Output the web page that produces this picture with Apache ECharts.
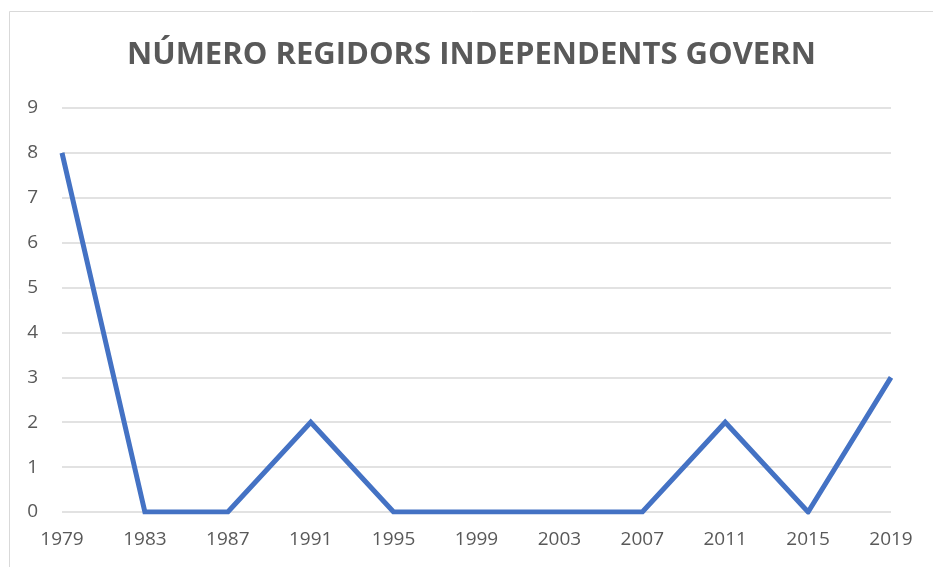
<!DOCTYPE html>
<html>
<head>
<meta charset="utf-8">
<script src="https://cdn.jsdelivr.net/npm/echarts@6/dist/echarts.min.js"></script>
<style>
  html, body { margin: 0; padding: 0; background: #fff; }
  #chart { width: 933px; height: 567px; }
</style>
</head>
<body>
<div id="chart"></div>
<script>
var categories = ["1979", "1983", "1987", "1991", "1995", "1999", "2003", "2007", "2011", "2015", "2019"];
var regidors = [8, 0, 0, 2, 0, 0, 0, 0, 2, 0, 3];

var myChart = echarts.init(document.getElementById("chart"));
var option = {
    animation: false,
    graphic: [{
        type: "rect",
        shape: { x: 9.5, y: 11.5, width: 1000, height: 1000 },
        style: { fill: "none", stroke: "#d9d9d9", lineWidth: 1 },
        silent: true
    }],
    title: {
        text: "NÚMERO REGIDORS INDEPENDENTS GOVERN",
        left: 122,
        top: 35,
        textStyle: {
            fontFamily: "Open Sans",
            fontWeight: "bold",
            fontSize: 31,
            color: "#595959"
        }
    },
    grid: {
        left: 62,
        right: 42,
        top: 108,
        bottom: 55
    },
    xAxis: {
        type: "category",
        boundaryGap: false,
        data: categories,
        axisLine: { show: false },
        axisTick: { show: false },
        axisLabel: {
            fontFamily: "Open Sans",
            fontSize: 19,
            color: "#595959",
            margin: 18
        },
        splitLine: { show: false }
    },
    yAxis: {
        type: "value",
        min: 0,
        max: 9,
        interval: 1,
        axisLine: { show: false },
        axisTick: { show: false },
        axisLabel: {
            fontFamily: "Open Sans",
            fontSize: 19,
            color: "#595959",
            margin: 24
        },
        splitLine: {
            lineStyle: { color: "#d9d9d9", width: 1.5 }
        }
    },
    series: [{
        name: "Regidors",
        type: "line",
        data: regidors,
        symbol: "none",
        lineStyle: { color: "#4472c4", width: 5, join: "miter" }
    }]
};
myChart.setOption(option, true);
</script>
</body>
</html>
